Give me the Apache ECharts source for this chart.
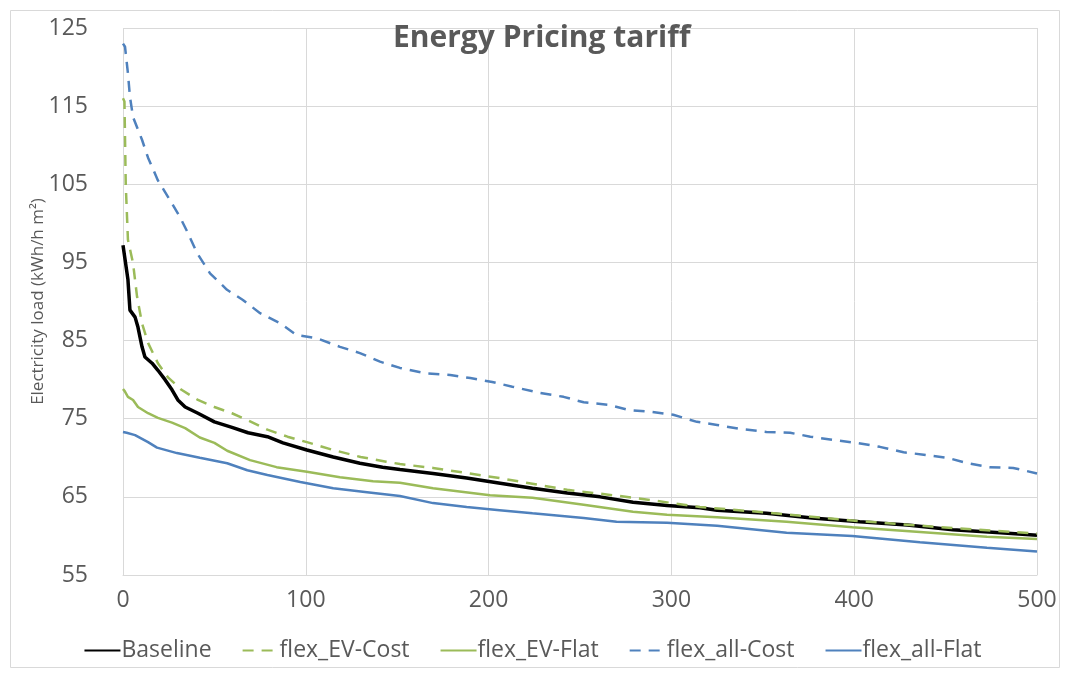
<!DOCTYPE html>
<html>
<head>
<meta charset="utf-8">
<script src="https://cdn.jsdelivr.net/npm/echarts@6/dist/echarts.min.js"></script>
<style>html,body{margin:0;padding:0;background:#fff;}#c{width:1065px;height:673px;}</style>
</head>
<body>
<div id="c"></div>
<script>
const xTicks = [0, 100, 200, 300, 400, 500];
const yTicks = [55, 65, 75, 85, 95, 105, 115, 125];
const seriesNames = ['Baseline', 'flex_EV-Cost', 'flex_EV-Flat', 'flex_all-Cost', 'flex_all-Flat'];

const baselineX = [0, 1, 2.7, 3.8, 6.6, 8.2, 10.4, 12, 15.9, 19.1, 23, 26.8, 30, 34, 41, 50, 59.6, 68.4, 79, 87.5, 100.6, 115, 129.6, 142, 151.5, 169.6, 188, 204.6, 224, 243, 261, 279, 297.6, 315.6, 325, 352, 377, 403, 429, 454, 480, 500];
const baselineY = [97.2, 97.0, 92.8, 88.9, 88.0, 86.7, 84.2, 82.9, 82.1, 81.2, 80.0, 78.7, 77.4, 76.5, 75.7, 74.6, 73.9, 73.2, 72.7, 71.9, 71.0, 70.1, 69.3, 68.8, 68.5, 68.0, 67.4, 66.8, 66.1, 65.5, 65.0, 64.3, 63.9, 63.6, 63.3, 62.9, 62.3, 61.8, 61.4, 60.8, 60.4, 60.1];

const evCostX = [0, 0.8, 1.5, 2.7, 5.5, 7.7, 10.4, 13.7, 19.1, 24.6, 32, 41, 50, 59.6, 68.4, 79, 90, 100.6, 115, 130, 144, 151.5, 169.6, 206, 243, 279, 315.6, 352, 403, 454, 500];
const evCostY = [116.0, 115.6, 105, 97.9, 94.9, 90.6, 87.2, 84.7, 82.1, 80.3, 78.7, 77.4, 76.5, 75.7, 74.8, 73.6, 72.7, 72.0, 71.0, 70.1, 69.5, 69.2, 68.7, 67.4, 65.9, 64.9, 63.7, 63.0, 61.9, 61.0, 60.3];

const evFlatX = [0, 1, 2.7, 5.5, 8.2, 13.7, 19.1, 26.8, 34, 42, 50, 57, 69.5, 84, 100.6, 118.7, 136.8, 151.5, 169.6, 200.8, 224, 252, 279, 297.6, 325, 363, 399, 436, 472.6, 500];
const evFlatY = [78.8, 78.5, 77.8, 77.4, 76.5, 75.7, 75.1, 74.5, 73.8, 72.6, 71.9, 70.9, 69.7, 68.8, 68.2, 67.5, 67.0, 66.8, 66.1, 65.2, 64.9, 64.0, 63.1, 62.7, 62.4, 61.8, 61.1, 60.5, 59.9, 59.6];

const allCostX = [0, 1.1, 2.7, 3.8, 5.5, 10.4, 13.7, 19.1, 24.6, 31.2, 35, 40.5, 47.6, 56.9, 65.6, 75, 86, 95, 106, 118.7, 129.6, 140.6, 151.5, 166, 179, 190, 202, 213, 228, 241, 252, 265, 277, 288, 301, 314, 325, 337.5, 352, 365, 376, 388, 401.5, 414, 427, 438, 451, 462, 474, 487, 500];
const allCostY = [123.0, 122.6, 119.2, 116.2, 113.6, 110.7, 108.4, 105.5, 103.4, 100.8, 99.0, 96.2, 93.6, 91.5, 90.2, 88.5, 87.2, 85.7, 85.3, 84.2, 83.4, 82.3, 81.5, 80.8, 80.6, 80.2, 79.7, 79.1, 78.3, 77.8, 77.1, 76.8, 76.1, 75.9, 75.5, 74.6, 74.2, 73.7, 73.3, 73.2, 72.7, 72.3, 71.9, 71.4, 70.7, 70.4, 70.0, 69.3, 68.8, 68.7, 68.0];

const allFlatX = [0, 2, 6.6, 13.7, 18.6, 29.5, 42, 57, 68, 79, 97, 115, 133.5, 151.5, 169.6, 188, 206, 224, 252, 270, 297.6, 325, 363, 399, 436, 472.6, 500];
const allFlatY = [73.3, 73.2, 72.9, 72.0, 71.3, 70.6, 70.0, 69.3, 68.4, 67.8, 66.9, 66.1, 65.6, 65.1, 64.2, 63.7, 63.3, 62.9, 62.3, 61.8, 61.7, 61.3, 60.4, 60.0, 59.2, 58.5, 58.0];

function pairs(xs, ys) { return xs.map((x, i) => [x, ys[i]]); }

const chart = echarts.init(document.getElementById('c'), null, {renderer: 'canvas'});
const FONT = '"Open Sans", sans-serif';
const GREY = '#595959';
const GREEN = '#9bbb59';
const BLUE = '#4f81bd';

chart.setOption({
  backgroundColor: '#fff',
  animation: false,
  textStyle: {fontFamily: FONT},
  graphic: [{
    type: 'rect', left: 8, top: 8,
    shape: {width: 1049, height: 657},
    style: {fill: 'none', stroke: '#d9d9d9', lineWidth: 1},
    silent: true, z: -1
  }],
  title: {
    text: 'Energy Pricing tariff',
    left: 388, top: 18,
    textStyle: {fontFamily: FONT, fontWeight: 'bold', fontSize: 30, color: GREY}
  },
  grid: {left: 123, right: 28, top: 28, bottom: 98, containLabel: false},
  legend: {
    bottom: 6, left: 'center',
    itemWidth: 36, itemHeight: 12, itemGap: 30,
    itemStyle: {opacity: 0},
    textStyle: {fontFamily: FONT, fontSize: 23, color: GREY, padding: [0, 0, 0, -4]},
    data: seriesNames
  },
  xAxis: {
    type: 'value', min: 0, max: 500, interval: 100,
    axisLine: {show: true, lineStyle: {color: '#d9d9d9'}},
    axisTick: {show: false},
    splitLine: {show: true, lineStyle: {color: '#d9d9d9'}},
    axisLabel: {fontFamily: FONT, fontSize: 23, color: GREY, margin: 14,
      customValues: xTicks}
  },
  yAxis: {
    type: 'value', min: 55, max: 125,
    name: 'Electricity load (kWh/h m²)',
    nameLocation: 'middle', nameGap: 76, nameRotate: 90,
    nameMoveOverlap: false,
    nameTextStyle: {fontFamily: FONT, fontSize: 17, color: GREY},
    axisLine: {show: false},
    axisTick: {show: false, customValues: yTicks},
    splitLine: {show: true, lineStyle: {color: '#d9d9d9'}},
    axisLabel: {fontFamily: FONT, fontSize: 23, color: GREY, margin: 35,
      customValues: yTicks}
  },
  series: [
    {name: seriesNames[0], type: 'line', data: pairs(baselineX, baselineY), symbol: 'none', z: 5,
      lineStyle: {color: '#000', width: 3.5}, itemStyle: {color: '#000'}},
    {name: seriesNames[1], type: 'line', data: pairs(evCostX, evCostY), symbol: 'none', z: 6,
      lineStyle: {color: GREEN, width: 2.5, type: [11, 8]}, itemStyle: {color: GREEN}},
    {name: seriesNames[2], type: 'line', data: pairs(evFlatX, evFlatY), symbol: 'none', z: 4,
      lineStyle: {color: GREEN, width: 2.5}, itemStyle: {color: GREEN}},
    {name: seriesNames[3], type: 'line', data: pairs(allCostX, allCostY), symbol: 'none', z: 4,
      lineStyle: {color: BLUE, width: 2.5, type: [11, 8]}, itemStyle: {color: BLUE}},
    {name: seriesNames[4], type: 'line', data: pairs(allFlatX, allFlatY), symbol: 'none', z: 4,
      lineStyle: {color: BLUE, width: 2.5}, itemStyle: {color: BLUE}}
  ]
});
</script>
</body>
</html>
